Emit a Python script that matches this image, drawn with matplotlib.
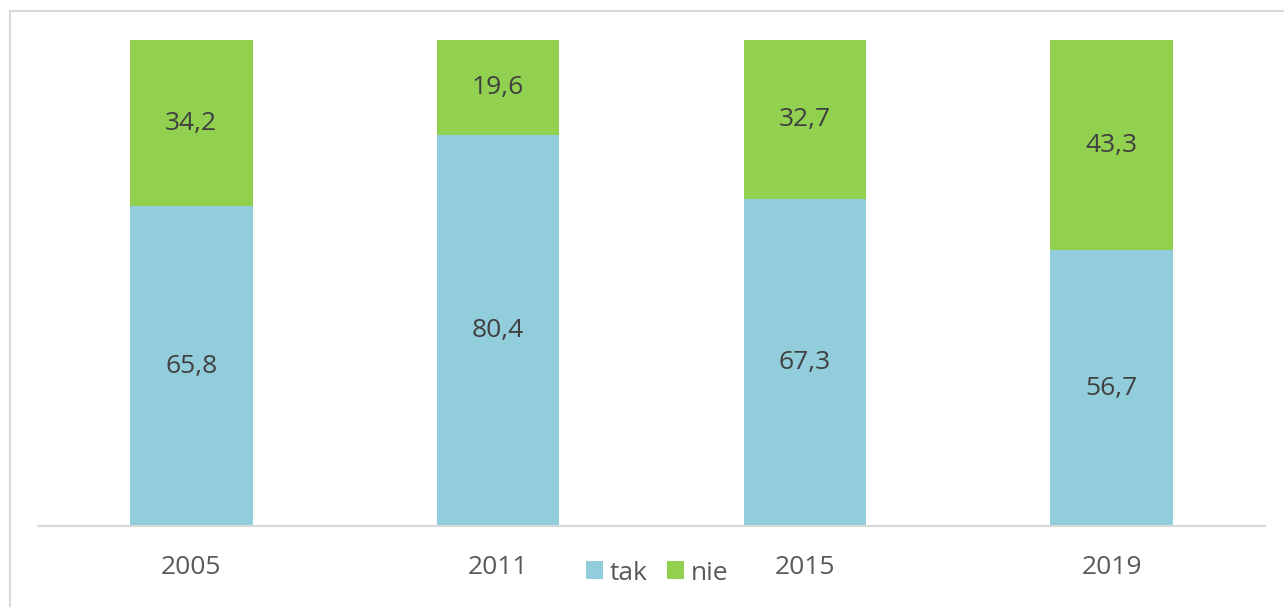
import matplotlib.pyplot as plt
from matplotlib.patches import Rectangle

years = ['2005', '2011', '2015', '2019']
tak = [65.8, 80.4, 67.3, 56.7]
nie = [34.2, 19.6, 32.7, 43.3]

blue = '#92CDDC'
green = '#92D050'
text_col = '#404040'

plt.rcParams['font.family'] = ['Open Sans', 'DejaVu Sans']

fig = plt.figure(figsize=(12.84, 6.07), dpi=100)
ax = fig.add_axes([38 / 1284, 81 / 607, 1227 / 1284, 486 / 607])

x = range(len(years))
b1 = ax.bar(x, tak, width=0.4, color=blue, label='tak')
b2 = ax.bar(x, nie, width=0.4, bottom=tak, color=green, label='nie')

for i in x:
    ax.text(i, tak[i] / 2, f'{tak[i]:.1f}'.replace('.', ','), ha='center', va='center',
            fontsize=19, color=text_col)
    ax.text(i, tak[i] + nie[i] / 2, f'{nie[i]:.1f}'.replace('.', ','), ha='center', va='center',
            fontsize=19, color=text_col)

ax.set_xlim(-0.5, 3.5)
ax.set_ylim(0, 100)
ax.set_xticks(list(x))
ax.set_xticklabels(years, fontsize=19, color='#595959')
ax.tick_params(axis='x', length=0, pad=21)
ax.set_yticks([])
for s in ['top', 'right', 'left']:
    ax.spines[s].set_visible(False)
ax.spines['bottom'].set_color('#d9d9d9')
ax.spines['bottom'].set_linewidth(1.5)

leg = fig.legend(handles=[b1, b2], labels=['tak', 'nie'], loc='center',
                 bbox_to_anchor=(657 / 1284, 1 - 573 / 607), ncol=2, frameon=False,
                 fontsize=19, handlelength=0.65, handleheight=0.65, handletextpad=0.25,
                 columnspacing=0.75)
for t in leg.get_texts():
    t.set_color('#595959')

# chart frame
fig.patches.append(Rectangle((9.5 / 1284, -0.1), 1.0, 1.1 - 11 / 607, transform=fig.transFigure,
                             fill=False, edgecolor='#d9d9d9', linewidth=1.5))

fig.savefig('out.png', dpi=100)
